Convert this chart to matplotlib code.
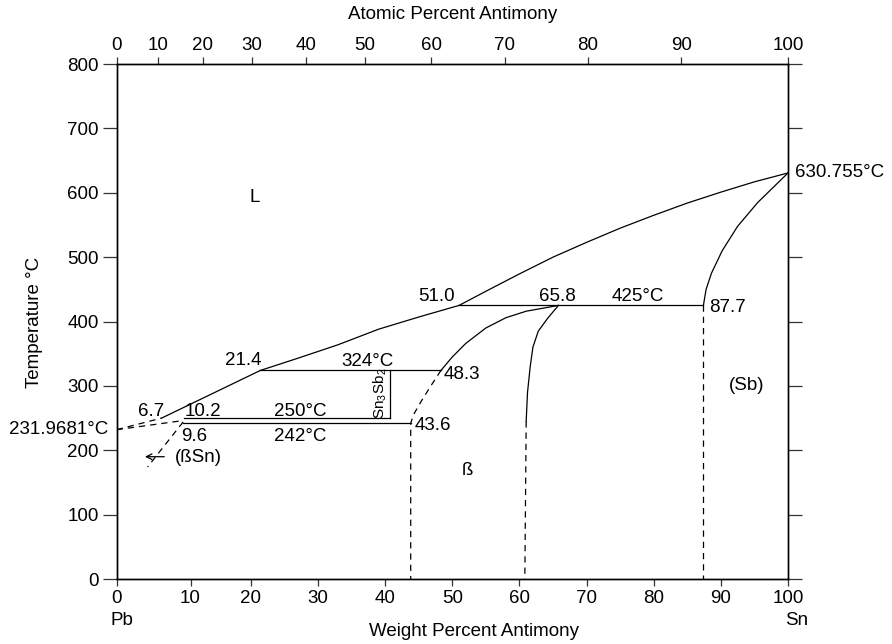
import matplotlib

matplotlib.use("Agg")
import matplotlib.pyplot as plt  # noqa: E402

plt.rcParams["font.family"] = ["Liberation Sans", "DejaVu Sans"]
plt.rcParams["mathtext.fontset"] = "custom"
plt.rcParams["mathtext.rm"] = "Liberation Sans"
FS = 13.5

# atomic weights used for the top (atomic %) scale
W_SB = 121.76
W_PB = 207.2
AT_TICKS = [0, 10, 20, 30, 40, 50, 60, 70, 80, 90, 100]
WT_TICKS = [0, 11, 20, 30, 40, 50, 60, 70, 80, 90, 100]
WT_LABELS = ["0", "10", "20", "30", "40", "50", "60", "70", "80", "90", "100"]
T_TICKS = [0, 100, 200, 300, 400, 500, 600, 700, 800]

# phase boundaries, (weight % Sb, temperature C)
liq_hi_x = [51.0, 55, 60, 65, 70, 75, 80, 85, 90, 95, 100]
liq_hi_y = [425, 447, 474, 500, 523, 545, 565, 584, 601, 617, 630.755]
liq_mid_x = [21.4, 27, 33, 39, 45, 51.0]
liq_mid_y = [324, 343, 364, 388, 407, 425]
liq_lo_x = [6.7, 21.4]
liq_lo_y = [250, 324]
liq_sn_x = [0, 6.7]
liq_sn_y = [231.9681, 250]
sol_sn_x = [0, 9.8]
sol_sn_y = [231.9681, 246]
solvus_sn_x = [9.9, 4.6]
solvus_sn_y = [244, 174]

beta_l_x = [48.3, 50, 52, 55, 58, 61, 65.8]
beta_l_y = [324, 345, 366, 390, 406, 416, 425]
beta_l_dash_x = [48.3, 46.8, 45.3, 44.2, 43.8, 43.8]
beta_l_dash_y = [324, 300, 275, 255, 242, 0]
beta_r_x = [65.8, 64.2, 62.8, 62.0, 61.6, 61.2, 61.0]
beta_r_y = [425, 405, 385, 360, 330, 290, 245]
beta_r_dash_x = [61.0, 60.8]
beta_r_dash_y = [245, 0]
sb_x = [87.4, 87.8, 88.6, 90.2, 92.5, 95.5, 100]
sb_y = [425, 450, 475, 510, 548, 585, 630.755]
sb_dash_x = [87.4, 87.4]
sb_dash_y = [425, 0]

iso_425_x = [51.0, 87.4]
iso_324_x = [21.4, 48.3]
iso_250_x = [10.0, 40.7]
iso_242_x = [9.9, 43.8]
comp_x = [40.7, 40.7]
comp_y = [250, 324]


def wt_from_at(a):
    return 100.0 * a * W_SB / (a * W_SB + (100 - a) * W_PB)


fig = plt.figure(figsize=(8.92, 6.44), dpi=100)
ax = fig.add_axes([0.1308, 0.1009, 0.7526, 0.7997])
ax.set_xlim(0, 100)
ax.set_ylim(0, 800)

solid = dict(color="black", lw=0.9)
dashed = dict(color="black", lw=0.9, ls=(0, (5, 4)))

for xs, ys in [(liq_hi_x, liq_hi_y), (liq_mid_x, liq_mid_y), (liq_lo_x, liq_lo_y),
               (beta_l_x, beta_l_y), (beta_r_x, beta_r_y), (sb_x, sb_y), (comp_x, comp_y)]:
    ax.plot(xs, ys, **solid)
for xs, ys in [(liq_sn_x, liq_sn_y), (sol_sn_x, sol_sn_y), (solvus_sn_x, solvus_sn_y),
               (beta_l_dash_x, beta_l_dash_y), (beta_r_dash_x, beta_r_dash_y), (sb_dash_x, sb_dash_y)]:
    ax.plot(xs, ys, **dashed)

ax.plot(iso_425_x, [425, 425], **solid)
ax.plot(iso_324_x, [324, 324], **solid)
ax.plot(iso_250_x, [250, 250], **solid)
ax.plot(iso_242_x, [242, 242], **solid)

ax.annotate("", xy=(3.8, 190), xytext=(7.5, 190),
            arrowprops=dict(arrowstyle="->", color="black", lw=0.9))

# labels
t = dict(fontsize=FS, color="black")
ax.text(20.6, 592, "L", ha="center", va="center", **t)
ax.text(101, 630.755, "630.755°C", ha="left", va="center", clip_on=False, **t)
ax.text(-1.3, 231.97, "231.9681°C", ha="right", va="center", clip_on=False, **t)
ax.text(47.6, 439, "51.0", ha="center", va="center", **t)
ax.text(65.7, 439, "65.8", ha="center", va="center", **t)
ax.text(77.6, 439, "425°C", ha="center", va="center", **t)
ax.text(88.2, 421, "87.7", ha="left", va="center", **t)
ax.text(18.8, 340, "21.4", ha="center", va="center", **t)
ax.text(37.3, 338, "324°C", ha="center", va="center", **t)
ax.text(48.7, 317, "48.3", ha="left", va="center", **t)
ax.text(5.2, 260, "6.7", ha="center", va="center", **t)
ax.text(12.8, 260, "10.2", ha="center", va="center", **t)
ax.text(27.3, 260, "250°C", ha="center", va="center", **t)
ax.text(11.6, 222, "9.6", ha="center", va="center", **t)
ax.text(27.3, 222, "242°C", ha="center", va="center", **t)
ax.text(44.4, 238, "43.6", ha="left", va="center", **t)
ax.text(8.7, 189, "(ßSn)", ha="left", va="center", **t)
ax.text(52.2, 168, "ß", ha="center", va="center", **t)
ax.text(93.9, 301, "(Sb)", ha="center", va="center", **t)
ax.text(40.5, 288, r"Sn$_3$Sb$_2$", rotation=90, ha="right", va="center",
        fontsize=11, color="black")

ax.text(0.8, -64, "Pb", ha="center", va="center", clip_on=False, **t)
ax.text(101.3, -64, "Sn", ha="center", va="center", clip_on=False, **t)
ax.text(53.3, -82, "Weight Percent Antimony", ha="center", va="center", clip_on=False, **t)
ax.text(50, 877, "Atomic Percent Antimony", ha="center", va="center", clip_on=False, **t)
ax.text(-12.2, 399, "Temperature °C", rotation=90, ha="center", va="center", clip_on=False, **t)

# axes styling
for s in ax.spines.values():
    s.set_linewidth(1.0)
ax.set_xticks(WT_TICKS)
ax.set_xticklabels(WT_LABELS)
ax.set_yticks(T_TICKS)
ax.tick_params(axis="x", direction="out", length=5, width=0.9, pad=3, labelsize=FS, color="#333333")
ax.tick_params(axis="y", direction="out", length=10, width=0.9, pad=3, labelsize=FS, color="#333333",
               right=True, labelright=False)

ax2 = ax.twiny()
ax2.set_xlim(0, 100)
ax2.set_xticks([wt_from_at(a) for a in AT_TICKS])
ax2.set_xticklabels([str(a) for a in AT_TICKS])
ax2.tick_params(axis="x", direction="out", length=5, width=0.9, pad=2, labelsize=FS, color="#333333")
for s in ax2.spines.values():
    s.set_linewidth(1.0)

fig.savefig("out.png", dpi=100)
